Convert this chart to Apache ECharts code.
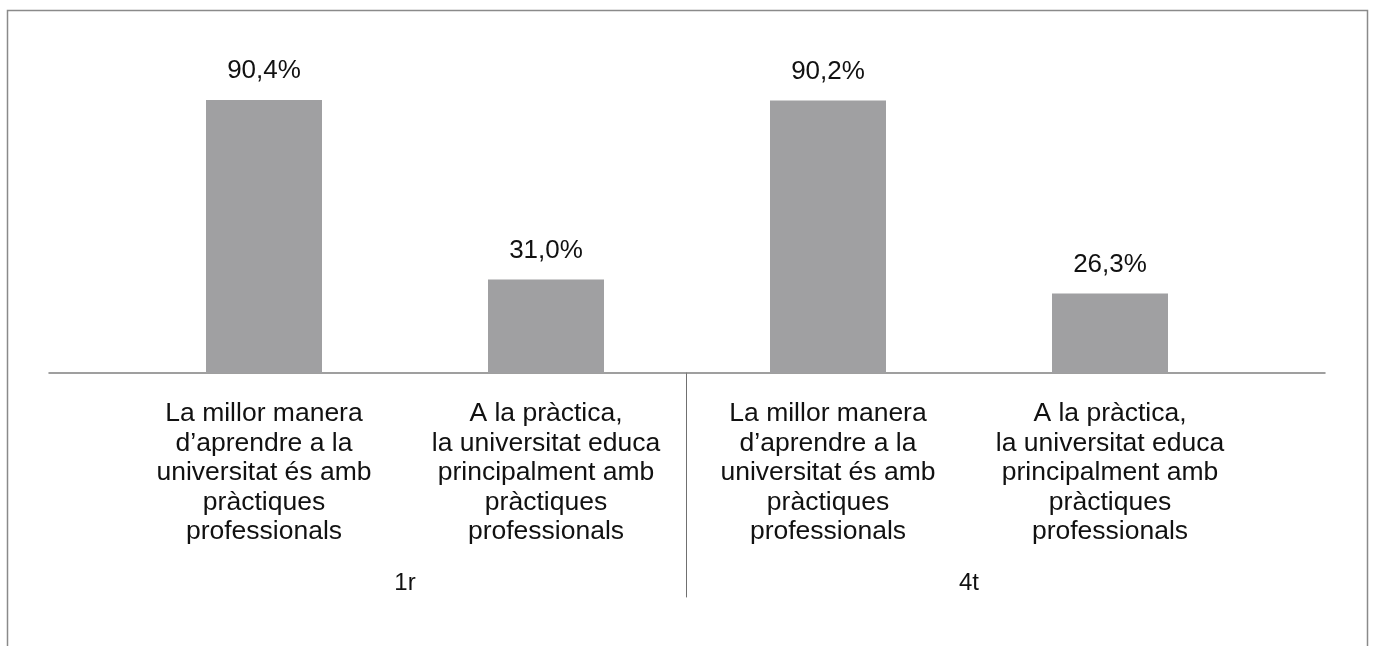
<!DOCTYPE html>
<html>
<head>
<meta charset="utf-8">
<script src="https://cdn.jsdelivr.net/npm/echarts@6/dist/echarts.min.js"></script>
<style>
  html, body { margin: 0; padding: 0; background: #fff; }
  #chart { width: 1373px; height: 646px; }
</style>
</head>
<body>
<div id="chart"></div>
<script>
const categories = [
  "La millor manera\nd’aprendre a la\nuniversitat és amb\npràctiques\nprofessionals",
  "A la pràctica,\nla universitat educa\nprincipalment amb\npràctiques\nprofessionals",
  "La millor manera\nd’aprendre a la\nuniversitat és amb\npràctiques\nprofessionals",
  "A la pràctica,\nla universitat educa\nprincipalment amb\npràctiques\nprofessionals"
];
const groups = ["1r", "4t"];
const values = [90.4, 31.0, 90.2, 26.3];

const FONT = "'Liberation Sans', Arial, Helvetica, sans-serif";
const chart = echarts.init(document.getElementById('chart'), null, { renderer: 'canvas' });

chart.setOption({
  animation: false,
  backgroundColor: '#fff',
  graphic: [{
    type: 'rect',
    silent: true,
    shape: { x: 7.5, y: 10.5, width: 1360, height: 700 },
    style: { fill: 'none', stroke: '#8a8a8a', lineWidth: 1.5 }
  }],
  grid: [
    { left: 123, right: 122, top: 71, bottom: 273, containLabel: false },
    { left: 49, right: 48, top: 71, bottom: 273, containLabel: false },
    { left: 686.5, width: 100, top: 373, bottom: 49, containLabel: false }
  ],
  xAxis: [
    {
      type: 'category',
      gridIndex: 0,
      data: categories,
      axisLine: { show: false },
      axisTick: { show: false },
      axisLabel: {
        interval: 0,
        margin: 26,
        fontFamily: FONT,
        fontSize: 26.5,
        lineHeight: 29.5,
        color: '#111'
      }
    },
    {
      type: 'category',
      gridIndex: 0,
      position: 'bottom',
      data: groups,
      axisLine: { show: false },
      axisTick: { show: false },
      axisLabel: {
        interval: 0,
        margin: 198,
        fontFamily: FONT,
        fontSize: 24,
        color: '#111'
      }
    },
    {
      type: 'category',
      gridIndex: 1,
      data: [''],
      axisLine: { show: true, lineStyle: { color: '#808080', width: 1.5 } },
      axisTick: { show: false },
      axisLabel: { show: false }
    },
    {
      type: 'value',
      gridIndex: 2,
      show: false
    }
  ],
  yAxis: [
    { type: 'value', gridIndex: 0, min: 0, max: 100, show: false },
    { type: 'value', gridIndex: 1, min: 0, max: 100, show: false },
    {
      type: 'value',
      gridIndex: 2,
      position: 'left',
      axisLine: { show: true, lineStyle: { color: '#707070', width: 1 } },
      axisTick: { show: false },
      axisLabel: { show: false },
      splitLine: { show: false }
    }
  ],
  series: [{
    type: 'bar',
    xAxisIndex: 0,
    yAxisIndex: 0,
    data: values,
    barWidth: 116,
    itemStyle: { color: '#a0a0a2' },
    label: {
      show: true,
      position: 'top',
      distance: 16,
      fontFamily: FONT,
      fontSize: 26,
      color: '#111',
      formatter: function (p) { return p.value.toFixed(1).replace('.', ',') + '%'; }
    }
  }]
});
</script>
</body>
</html>
